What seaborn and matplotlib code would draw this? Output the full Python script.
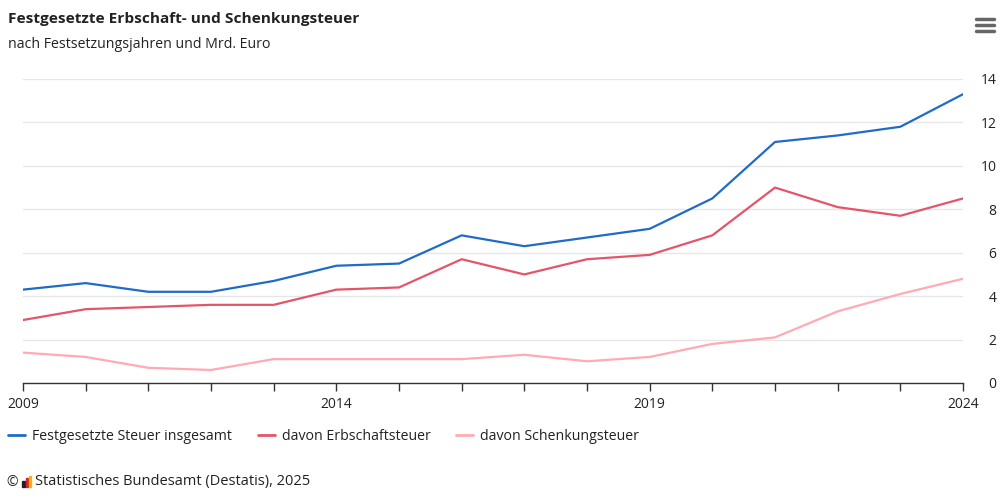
import matplotlib
matplotlib.use("Agg")
import matplotlib.pyplot as plt
from matplotlib.lines import Line2D
from matplotlib.patches import Rectangle
import numpy as np
import pandas as pd
import seaborn as sns

# * Data (Mrd. Euro)
years = list(range(2009, 2025))
total = [4.3, 4.6, 4.2, 4.2, 4.7, 5.4, 5.5, 6.8, 6.3, 6.7, 7.1, 8.5, 11.1, 11.4, 11.8, 13.3]
erbschaft = [2.9, 3.4, 3.5, 3.6, 3.6, 4.3, 4.4, 5.7, 5.0, 5.7, 5.9, 6.8, 9.0, 8.1, 7.7, 8.5]
schenkung = [1.4, 1.2, 0.7, 0.6, 1.1, 1.1, 1.1, 1.1, 1.3, 1.0, 1.2, 1.8, 2.1, 3.3, 4.1, 4.8]
series_names = ["Festgesetzte Steuer insgesamt", "davon Erbschaftsteuer", "davon Schenkungsteuer"]
colors = ["#1f6bc6", "#e3566a", "#ffaab4"]
x_labels = [2009, 2014, 2019, 2024]
y_ticks = [0, 2, 4, 6, 8, 10, 12, 14]

df = pd.DataFrame({
    "Jahr": years * 3,
    "Wert": total + erbschaft + schenkung,
    "Reihe": [series_names[0]] * 16 + [series_names[1]] * 16 + [series_names[2]] * 16,
})

sns.set_theme(style="white")
plt.rcParams["font.family"] = ["Open Sans", "DejaVu Sans"]
text_col = "#222222"

fig = plt.figure(figsize=(10.04, 5.03), dpi=100)
ax = fig.add_axes([23 / 1004, 1 - 383 / 503, 940 / 1004, 304 / 503])

sns.lineplot(data=df, x="Jahr", y="Wert", hue="Reihe", palette=colors,
             linewidth=1.6, ax=ax, legend=False)

ax.set_xlim(2009, 2024)
ax.set_ylim(0, 14)
ax.set_xlabel("")
ax.set_ylabel("")

# * y axis on the right, grid lines
ax.yaxis.tick_right()
ax.set_yticks(y_ticks)
ax.set_yticklabels([str(v) for v in y_ticks], fontsize=10, color=text_col, ha="right")
ax.tick_params(axis="y", length=0, pad=24)
ax.grid(axis="y", color="#e6e6e6", linewidth=1)
ax.set_axisbelow(True)

# * x axis with ticks every year, labels only every 5
ax.set_xticks(years)
ax.set_xticklabels([str(y) if y in x_labels else "" for y in years], fontsize=10, color=text_col)
ax.tick_params(axis="x", bottom=True, length=6, width=1, color="#333333", direction="out", pad=4)

for side in ["top", "right", "left"]:
    ax.spines[side].set_visible(False)
ax.spines["bottom"].set_color("#333333")
ax.spines["bottom"].set_linewidth(1)

# * legend below the plot
handles = [Line2D([0], [0], color=c, linewidth=2) for c in colors]
fig.legend(handles, series_names, loc="center left", bbox_to_anchor=(4 / 1004, 1 - 436 / 503),
           ncol=3, frameon=False, fontsize=10.2, handlelength=1.2, handletextpad=0.5,
           columnspacing=1.8, labelcolor=text_col, borderaxespad=0, borderpad=0.3)

# * title and subtitle
fig.text(8 / 1004, 1 - 19 / 503, "Festgesetzte Erbschaft- und Schenkungsteuer",
         fontsize=11.1, fontweight="bold", color=text_col, va="center")
fig.text(8 / 1004, 1 - 45 / 503, "nach Festsetzungsjahren und Mrd. Euro",
         fontsize=10.2, color=text_col, va="center")

# * menu icon
for yy in [19, 25, 31]:
    fig.add_artist(Line2D([976 / 1004, 994 / 1004], [1 - yy / 503] * 2,
                          color="#666666", linewidth=2.5, solid_capstyle="round"))

# * footer with small logo
fig.text(6 / 1004, 1 - 482 / 503, "\u00a9", fontsize=10, color=text_col, va="center")
for i, (h, c) in enumerate([(6, "#222222"), (9, "#d6213c"), (11, "#f2b500")]):
    fig.add_artist(Rectangle(((22 + i * 3.5) / 1004, 1 - 487 / 503), 2.5 / 1004, h / 503,
                             color=c, transform=fig.transFigure))
fig.text(35 / 1004, 1 - 482 / 503, "Statistisches Bundesamt (Destatis), 2025",
         fontsize=10.5, color=text_col, va="center")

fig.savefig("out.png", dpi=100, facecolor="white")
